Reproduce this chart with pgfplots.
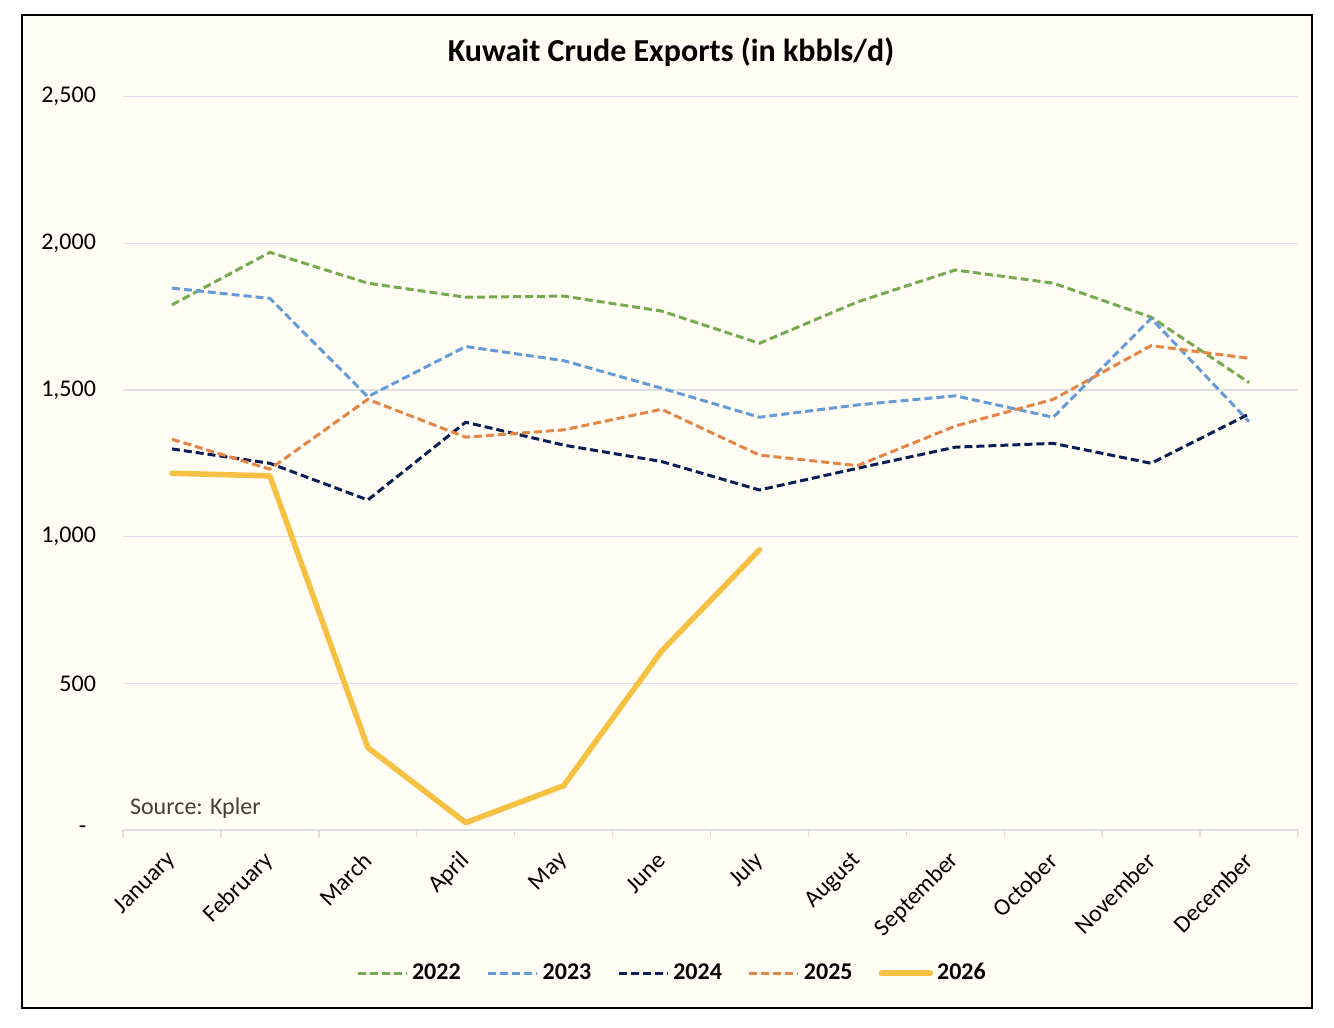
\documentclass[border=0pt]{standalone}
\usepackage{fontspec}
\setmainfont{Carlito}
\usepackage{pgfplots}
\pgfplotsset{compat=1.18}
\definecolor{bg}{RGB}{255,253,244}
\definecolor{gridc}{RGB}{219,223,229}
\definecolor{c22}{RGB}{118,170,80}
\definecolor{c23}{RGB}{100,155,215}
\definecolor{c24}{RGB}{10,30,85}
\definecolor{c25}{RGB}{228,132,70}
\definecolor{c26}{RGB}{246,192,66}
\definecolor{srcc}{RGB}{64,64,64}
\begin{document}
\begin{tikzpicture}[font=\fontsize{12}{14}\selectfont]
\path[use as bounding box] (-61.5pt,-99pt) rectangle (605.5pt,415pt);
\fill[white] (-61.5pt,-99pt) rectangle (605.5pt,415pt);
\filldraw[fill=bg, draw=black, line width=1.1pt] (-50.5pt,-89pt) rectangle (594.5pt,407.5pt);
\node[font=\fontsize{16}{18}\selectfont\bfseries] at (274pt,389pt) {Kuwait Crude Exports (in kbbls/d)};
\begin{axis}[at={(0pt,0pt)}, anchor=south west, scale only axis,
  width=587.5pt, height=366.7pt,
  xmin=-0.5, xmax=11.5, ymin=0, ymax=2500,
  axis line style={draw=none},
  ymajorgrids, grid style={gridc, line width=0.75pt},
  ytick={0,500,1000,1500,2000,2500},
  yticklabels={{\makebox[8.5pt][l]{-}},500,{1,000},{1,500},{2,000},{2,500}},
  yticklabel style={anchor=east, xshift=-10pt},
  xtick={0,...,11},
  xticklabels={January,February,March,April,May,June,July,August,September,October,November,December},
  xticklabel style={xshift=2.5pt, yshift=-11pt, rotate=45, anchor=east},
  minor xtick={-0.5,0.5,...,11.5},
  major tick length=0pt, minor tick length=3.5pt,
  tick align=outside, xtick pos=bottom, ytick pos=left,
  tick style={gridc, line width=0.75pt},
  legend columns=5,
  legend style={at={(0.468,-0.195)}, anchor=center, draw=none, fill=none,
    font=\fontsize{12}{14}\selectfont\bfseries,
    /tikz/every even column/.append style={column sep=11pt}},
  legend image code/.code={\draw[#1] (0pt,0pt) -- (24.5pt,0pt);},
  every axis plot/.append style={line join=round},
]
\addplot[c22, line width=1.5pt, dash pattern=on 4pt off 2pt] coordinates {
(0,1790) (1,1969) (2,1864) (3,1816) (4,1820) (5,1769) (6,1659) (7,1800) (8,1909) (9,1864) (10,1748) (11,1525)};
\addlegendentry{2022}
\addplot[c23, line width=1.5pt, dash pattern=on 4pt off 2pt] coordinates {
(0,1847) (1,1812) (2,1477) (3,1648) (4,1600) (5,1506) (6,1407) (7,1449) (8,1480) (9,1407) (10,1744) (11,1392)};
\addlegendentry{2023}
\addplot[c24, line width=1.5pt, dash pattern=on 4pt off 2pt] coordinates {
(0,1299) (1,1250) (2,1125) (3,1390) (4,1312) (5,1256) (6,1159) (7,1233) (8,1305) (9,1318) (10,1250) (11,1418)};
\addlegendentry{2024}
\addplot[c25, line width=1.5pt, dash pattern=on 4pt off 2pt] coordinates {
(0,1332) (1,1230) (2,1468) (3,1339) (4,1364) (5,1434) (6,1278) (7,1242) (8,1377) (9,1468) (10,1651) (11,1608)};
\addlegendentry{2025}
\addplot[c26, line width=2.75pt, line cap=round] coordinates {
(0,1216) (1,1207) (2,281) (3,25) (4,151) (5,610) (6,955)};
\addlegendentry{2026}
\node[anchor=west, text=srcc, font=\fontsize{12}{14}\selectfont] at (axis cs:-0.5,75) {Source: Kpler};
\end{axis}
\end{tikzpicture}
\end{document}
